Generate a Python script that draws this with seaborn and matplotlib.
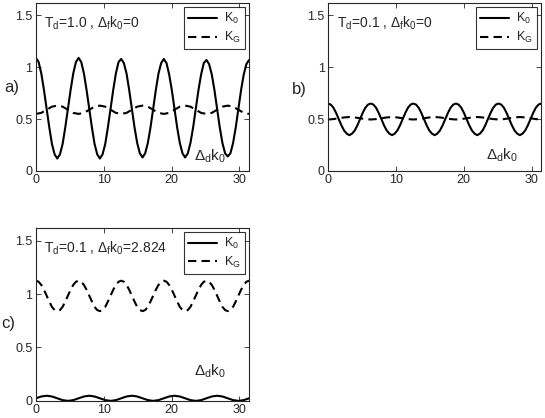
import numpy as np
import pandas as pd
import seaborn as sns
import matplotlib.pyplot as plt

# sample grids (delta_d * k0), fine for big swings, coarse for small ones
x_fine = np.arange(81) * np.pi / 8
x_coarse = np.arange(41) * np.pi / 4

# panel a) T_d=1.0, delta_f k0=0
a_k0 = [1.09, 1.05, 0.94, 0.78, 0.60, 0.42, 0.26, 0.16, 0.12, 0.16, 0.26, 0.42, 0.60, 0.78, 0.94, 1.05,
        1.09, 1.05, 0.94, 0.78, 0.60, 0.42, 0.26, 0.16, 0.12, 0.16, 0.26, 0.42, 0.60, 0.78, 0.94, 1.05,
        1.08, 1.04, 0.94, 0.78, 0.60, 0.42, 0.27, 0.17, 0.13, 0.17, 0.27, 0.42, 0.60, 0.78, 0.94, 1.04,
        1.08, 1.04, 0.93, 0.78, 0.60, 0.42, 0.27, 0.17, 0.13, 0.17, 0.27, 0.42, 0.60, 0.78, 0.93, 1.04,
        1.07, 1.03, 0.93, 0.78, 0.60, 0.42, 0.27, 0.17, 0.14, 0.17, 0.27, 0.42, 0.60, 0.78, 0.93, 1.03,
        1.07]
a_kg = [0.55, 0.56, 0.59, 0.62, 0.63, 0.62, 0.59, 0.56,
        0.55, 0.56, 0.59, 0.62, 0.63, 0.62, 0.59, 0.56,
        0.55, 0.56, 0.59, 0.62, 0.63, 0.62, 0.59, 0.56,
        0.55, 0.56, 0.59, 0.62, 0.63, 0.62, 0.59, 0.56,
        0.55, 0.56, 0.59, 0.62, 0.63, 0.62, 0.59, 0.56,
        0.55]

# panel b) T_d=0.1, delta_f k0=0
b_k0 = [0.65, 0.64, 0.61, 0.56, 0.50, 0.44, 0.39, 0.36, 0.345, 0.36, 0.39, 0.44, 0.50, 0.56, 0.61, 0.64,
        0.65, 0.64, 0.61, 0.56, 0.50, 0.44, 0.39, 0.36, 0.345, 0.36, 0.39, 0.44, 0.50, 0.56, 0.61, 0.64,
        0.65, 0.64, 0.61, 0.56, 0.50, 0.44, 0.39, 0.36, 0.345, 0.36, 0.39, 0.44, 0.50, 0.56, 0.61, 0.64,
        0.65, 0.64, 0.61, 0.56, 0.50, 0.44, 0.39, 0.36, 0.345, 0.36, 0.39, 0.44, 0.50, 0.56, 0.61, 0.64,
        0.65, 0.64, 0.61, 0.56, 0.50, 0.44, 0.39, 0.36, 0.345, 0.36, 0.39, 0.44, 0.50, 0.56, 0.61, 0.64,
        0.65]
b_kg = [0.496, 0.50, 0.508, 0.516, 0.52, 0.516, 0.508, 0.50,
        0.496, 0.50, 0.508, 0.516, 0.52, 0.516, 0.508, 0.50,
        0.496, 0.50, 0.508, 0.516, 0.52, 0.516, 0.508, 0.50,
        0.496, 0.50, 0.508, 0.516, 0.52, 0.516, 0.508, 0.50,
        0.496, 0.50, 0.508, 0.516, 0.52, 0.516, 0.508, 0.50,
        0.496]

# panel c) T_d=0.1, delta_f k0=2.824
c_k0 = [0.024, 0.041, 0.048, 0.041, 0.024, 0.007, 0.0, 0.007,
        0.024, 0.041, 0.048, 0.041, 0.024, 0.007, 0.0, 0.007,
        0.024, 0.041, 0.048, 0.041, 0.024, 0.007, 0.0, 0.007,
        0.024, 0.041, 0.048, 0.041, 0.024, 0.007, 0.0, 0.007,
        0.024, 0.041, 0.048, 0.041, 0.024, 0.007, 0.0, 0.007,
        0.024]
c_kg = [1.125, 1.115, 1.085, 1.04, 0.985, 0.93, 0.88, 0.85, 0.84, 0.85, 0.88, 0.93, 0.985, 1.04, 1.085, 1.115,
        1.125, 1.115, 1.085, 1.04, 0.985, 0.93, 0.88, 0.85, 0.84, 0.85, 0.88, 0.93, 0.985, 1.04, 1.085, 1.115,
        1.125, 1.115, 1.085, 1.04, 0.985, 0.93, 0.88, 0.85, 0.84, 0.85, 0.88, 0.93, 0.985, 1.04, 1.085, 1.115,
        1.125, 1.115, 1.085, 1.04, 0.985, 0.93, 0.88, 0.85, 0.84, 0.85, 0.88, 0.93, 0.985, 1.04, 1.085, 1.115,
        1.125, 1.115, 1.085, 1.04, 0.985, 0.93, 0.88, 0.85, 0.84, 0.85, 0.88, 0.93, 0.985, 1.04, 1.085, 1.115,
        1.125]

panels = [
    ('a)', r'$T_d$=1.0 , $\Delta_f k_0$=0', a_k0, x_fine, a_kg, x_coarse, 0.085),
    ('b)', r'$T_d$=0.1 , $\Delta_f k_0$=0', b_k0, x_fine, b_kg, x_coarse, 0.095),
    ('c)', r'$T_d$=0.1 , $\Delta_f k_0$=2.824', c_k0, x_coarse, c_kg, x_fine, 0.17),
]
rects = [[0.066, 0.591, 0.391, 0.402],
         [0.602, 0.591, 0.391, 0.402],
         [0.066, 0.041, 0.391, 0.414]]
# where the panel tags sit, figure fraction (left edge, centre)
tag_pos = [(0.008, 0.79), (0.535, 0.785), (0.002, 0.227)]

sns.set_style('ticks')
plt.rcParams['font.family'] = ['Liberation Sans', 'DejaVu Sans']
plt.rcParams['mathtext.fontset'] = 'custom'
plt.rcParams['mathtext.rm'] = 'Liberation Sans'
plt.rcParams['mathtext.it'] = 'Liberation Sans'
plt.rcParams['mathtext.default'] = 'regular'

fig = plt.figure(figsize=(5.45, 4.18), dpi=100)

for (tag, title, k0, xk0, kg, xkg, dy), rect, tp in zip(panels, rects, tag_pos):
    ax = fig.add_axes(rect)
    df = pd.concat([
        pd.DataFrame({'x': xk0, 'y': k0, 'curve': '$K_0$'}),
        pd.DataFrame({'x': xkg, 'y': kg, 'curve': '$K_G$'}),
    ])
    sns.lineplot(data=df, x='x', y='y', style='curve', color='black',
                 dashes={'$K_0$': '', '$K_G$': (4, 2.5)}, linewidth=1.5,
                 sort=False, estimator=None, ax=ax)
    ax.set_xlim(0, 10 * np.pi)
    ax.set_ylim(0, 1.62)
    ax.set_xticks([0, 10, 20, 30])
    ax.set_yticks([0, 0.5, 1, 1.5])
    ax.set_yticklabels(['0', '0.5', '1', '1.5'])
    ax.set_xlabel('')
    ax.set_ylabel('')
    ax.tick_params(direction='in', top=True, right=True, length=3.5,
                   labelsize=9, width=0.6, pad=2.5)
    for s in ax.spines.values():
        s.set_linewidth(0.8)
    leg = ax.legend(loc='upper right', fontsize=9, frameon=True, fancybox=False,
                    handlelength=2.3, borderaxespad=0.3, labelspacing=0.3,
                    borderpad=0.35, handletextpad=0.6)
    leg.get_frame().set_edgecolor('black')
    leg.get_frame().set_linewidth(0.8)
    ax.text(0.04, 0.88, title, transform=ax.transAxes, fontsize=10, va='center')
    ax.text(0.74, dy, r'$\Delta_d k_0$', transform=ax.transAxes, fontsize=11, va='center')
    fig.text(tp[0], tp[1], tag, fontsize=12, va='center', ha='left')

fig.savefig('out.png', dpi=100)
